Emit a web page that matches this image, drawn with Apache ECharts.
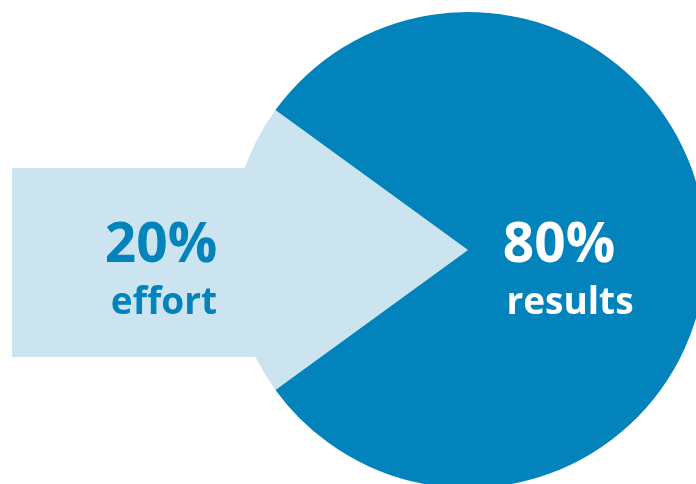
<!DOCTYPE html>
<html>
<head>
<meta charset="utf-8">
<script src="https://cdn.jsdelivr.net/npm/echarts@6/dist/echarts.min.js"></script>
<style>html,body{margin:0;padding:0;background:#fff}#c{width:696px;height:484px}</style>
</head>
<body>
<div id="c"></div>
<script>
const categories = ['effort', 'results'];
const values = [20, 80];
const colors = ['#cce4f0', '#0383bb'];
const textColors = ['#0383bb', '#ffffff'];

const chart = echarts.init(document.getElementById('c'), null, {renderer: 'canvas'});
const font = '"Open Sans", sans-serif';
chart.setOption({
  backgroundColor: '#ffffff',
  animation: false,
  series: [{
    type: 'pie',
    center: [468, 250],
    radius: 238,
    startAngle: 216,
    clockwise: true,
    label: {show: false},
    labelLine: {show: false},
    silent: true,
    z: 2,
    data: categories.map((c, i) => ({name: c, value: values[i], itemStyle: {color: colors[i]}}))
  }],
  graphic: [
    {type: 'rect', z: 1, shape: {x: 12, y: 168, width: 250, height: 189}, style: {fill: colors[0]}},
    {type: 'text', z: 10, x: 161, y: 274, style: {text: values[0] + '%', fill: textColors[0], font: 'bold 55px ' + font, textAlign: 'center', textVerticalAlign: 'bottom'}},
    {type: 'text', z: 10, x: 164, y: 322, style: {text: categories[0], fill: textColors[0], font: 'bold 37px ' + font, textAlign: 'center', textVerticalAlign: 'bottom'}},
    {type: 'text', z: 10, x: 559, y: 274, style: {text: values[1] + '%', fill: textColors[1], font: 'bold 55px ' + font, textAlign: 'center', textVerticalAlign: 'bottom'}},
    {type: 'text', z: 10, x: 570, y: 322, style: {text: categories[1], fill: textColors[1], font: 'bold 37px ' + font, textAlign: 'center', textVerticalAlign: 'bottom'}}
  ]
});
</script>
</body>
</html>
